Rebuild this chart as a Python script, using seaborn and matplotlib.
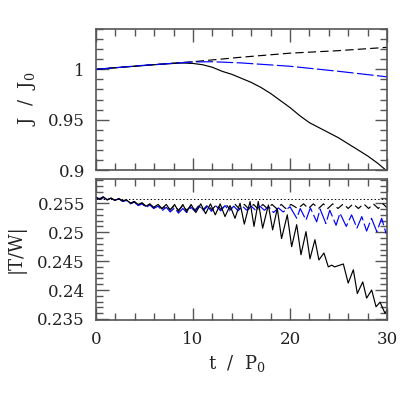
import numpy as np
import pandas as pd
import matplotlib
matplotlib.use("Agg")
import matplotlib.pyplot as plt
import seaborn as sns
from matplotlib.ticker import MultipleLocator, FixedLocator, FixedFormatter

# ---------------- data ----------------
# Top panel: J / J0
t_j = [0, 2, 4, 6, 8, 9, 10, 11, 12, 13, 14, 15, 16, 17, 18, 19, 20,
       21, 22, 23, 24, 25, 26, 27, 28, 29, 30]
j_solid = [1.0, 1.0015, 1.003, 1.0045, 1.0058, 1.0062, 1.0058, 1.0045, 1.002,
           0.998, 0.995, 0.991, 0.987, 0.982, 0.976, 0.969, 0.962, 0.954,
           0.947, 0.942, 0.937, 0.932, 0.926, 0.920, 0.914, 0.907, 0.899]
t_jd = [0, 5, 10, 15, 20, 25, 30]
j_dashed = [1.0, 1.004, 1.0075, 1.012, 1.016, 1.0185, 1.0218]
t_jb = [0, 5, 10, 12, 15, 20, 25, 30]
j_blue = [1.0, 1.004, 1.0073, 1.0075, 1.0063, 1.003, 0.998, 0.9925]

# Bottom panel: |T/W| (extrema of the oscillations)
t_ws = [0.0, 0.35, 0.75, 1.15, 1.55, 1.95, 2.35, 2.75, 3.15, 3.55,
        3.95, 4.35, 4.75, 5.15, 5.55, 5.95, 6.4, 6.8, 7.25, 7.65,
        8.1, 8.5, 8.95, 9.35, 9.8, 10.3, 10.8, 11.3, 11.8, 12.3,
        12.8, 13.3, 13.82, 14.33, 14.85, 15.29, 15.88, 16.29, 16.73, 17.18,
        17.77, 18.21, 18.69, 19.13, 19.72, 20.17, 20.69, 21.13, 21.65, 22.06,
        22.57, 22.98, 23.5, 23.95, 24.3, 24.6, 25.5, 26.0, 26.53, 26.94,
        27.5, 27.9, 28.42, 28.87, 29.28, 29.79, 30.0]
w_solid = [0.2560, 0.2557, 0.2561, 0.2556, 0.2559, 0.2555, 0.2558, 0.2554, 0.2556, 0.2550,
           0.2553, 0.2548, 0.2551, 0.2545, 0.2549, 0.2543, 0.2548, 0.2541, 0.2548, 0.2538,
           0.2548, 0.2536, 0.2548, 0.2535, 0.2548, 0.2534, 0.2549, 0.2532, 0.2549, 0.2530,
           0.2549, 0.2527, 0.2546, 0.2524, 0.2550, 0.2514, 0.2553, 0.2510, 0.2553, 0.2507,
           0.2547, 0.2504, 0.2541, 0.2489, 0.2530, 0.2475, 0.2513, 0.2461, 0.2501, 0.2454,
           0.2487, 0.2452, 0.2464, 0.2440, 0.2443, 0.2440, 0.2445, 0.2412, 0.2435, 0.2394,
           0.2414, 0.2386, 0.2400, 0.2371, 0.2379, 0.2360, 0.2365]

t_wb = [0.0, 0.35, 0.75, 1.15, 1.55, 1.95, 2.35, 2.75, 3.15, 3.55,
        3.95, 4.35, 4.75, 5.15, 5.55, 5.95, 6.4, 6.8, 7.25, 7.65,
        8.1, 8.5, 8.95, 9.35, 9.8, 10.2, 10.65, 11.05, 11.5, 11.9,
        12.4, 12.85, 13.3, 13.75, 14.2, 14.65, 15.1, 15.55, 16.0, 16.45,
        16.9, 17.35, 17.8, 18.3, 18.8, 19.3, 20.0, 20.7, 21.05, 21.65,
        22.1, 22.75, 23.1, 23.7, 24.1, 24.75, 25.15, 25.8, 26.35, 26.9,
        27.4, 27.9, 28.4, 28.95, 29.45, 29.9, 30.0]
w_blue = [0.2561, 0.2557, 0.2561, 0.2556, 0.2559, 0.2555, 0.2558, 0.2553, 0.2555, 0.2549,
          0.2552, 0.2546, 0.2549, 0.2543, 0.2547, 0.2541, 0.2545, 0.2537, 0.2543, 0.2535,
          0.2542, 0.2533, 0.2541, 0.2534, 0.2543, 0.2536, 0.2545, 0.2537, 0.2545, 0.2536,
          0.2545, 0.2537, 0.2546, 0.2537, 0.2545, 0.2537, 0.2545, 0.2538, 0.2545, 0.2538,
          0.2545, 0.2538, 0.2544, 0.2534, 0.2542, 0.2535, 0.2544, 0.2524, 0.2541, 0.2521,
          0.2542, 0.2518, 0.2540, 0.2515, 0.2538, 0.2512, 0.2533, 0.2510, 0.2530, 0.2507,
          0.2527, 0.2502, 0.2524, 0.2501, 0.2524, 0.2498, 0.2500]

t_wd = [0.0, 0.35, 0.75, 1.15, 1.55, 1.95, 2.35, 2.75, 3.15, 3.55,
        3.95, 4.35, 4.75, 5.15, 5.55, 5.95, 6.4, 6.8, 7.25, 7.65,
        8.1, 8.5, 8.95, 9.35, 9.8, 10.2, 10.65, 11.05, 11.5, 11.95,
        12.45, 12.9, 13.4, 13.85, 14.35, 14.8, 15.3, 15.75, 16.25, 16.7,
        17.2, 17.65, 18.15, 18.6, 19.1, 19.55, 20.1, 20.8, 21.4, 21.9,
        22.4, 22.95, 23.45, 23.9, 24.4, 24.95, 25.5, 26.0, 26.5, 27.05,
        27.6, 28.1, 28.6, 29.1, 29.6, 30.0]
w_dashed = [0.2560, 0.2557, 0.2561, 0.2556, 0.2559, 0.2555, 0.2558, 0.2554, 0.2556, 0.2550,
            0.2553, 0.2547, 0.2550, 0.2544, 0.2548, 0.2542, 0.2547, 0.2540, 0.2546, 0.2539,
            0.2546, 0.2538, 0.2546, 0.2538, 0.2546, 0.2538, 0.2547, 0.2539, 0.2547, 0.2539,
            0.2548, 0.2539, 0.2548, 0.2539, 0.2548, 0.2540, 0.2548, 0.2540, 0.2548, 0.2540,
            0.2548, 0.2541, 0.2548, 0.2541, 0.2548, 0.2541, 0.2548, 0.2541, 0.2549, 0.2541,
            0.2549, 0.2541, 0.2549, 0.2541, 0.2549, 0.2541, 0.2549, 0.2541, 0.2549, 0.2541,
            0.2549, 0.2541, 0.2549, 0.2541, 0.2549, 0.2542]
tw_ref = 0.2557

top_ticks = [0.9, 0.95, 1.0]
top_ticklabels = ["0.9", "0.95", "1"]
bot_ticks = [0.235, 0.24, 0.245, 0.25, 0.255]
bot_ticklabels = ["0.235", "0.24", "0.245", "0.25", "0.255"]
x_ticks = [0, 10, 20, 30]
x_ticklabels = ["0", "10", "20", "30"]

# ---------------- style ----------------
sns.set_style("ticks")
plt.rcParams["font.family"] = ["DejaVu Serif"]
plt.rcParams["mathtext.fontset"] = "dejavuserif"
plt.rcParams["lines.scale_dashes"] = False
plt.rcParams["lines.solid_joinstyle"] = "round"
plt.rcParams["lines.dash_joinstyle"] = "round"

txt_color = "#222222"
spine_color = "#555555"

fig = plt.figure(figsize=(4.15, 4.15), dpi=100)
ax1 = fig.add_axes([96/415, 1 - 170/415, 291/415, 141/415])
ax2 = fig.add_axes([96/415, 1 - 319.5/415, 291/415, 140.5/415])

lw = 0.85
blk_dash = (0, (6.0, 3.0))
blue_dash = (0, (12.0, 2.5))

# Top panel
sns.lineplot(x=t_j, y=j_solid, ax=ax1, color="black", lw=lw, sort=False, estimator=None)
sns.lineplot(x=t_jd, y=j_dashed, ax=ax1, color="black", lw=lw, ls=blk_dash, sort=False, estimator=None)
sns.lineplot(x=t_jb, y=j_blue, ax=ax1, color="#0000ff", lw=lw, ls=blue_dash, sort=False, estimator=None)

# Bottom panel
ax2.axhline(tw_ref, color="black", lw=0.7, ls=(0, (1.0, 1.6)))
sns.lineplot(x=t_wd, y=w_dashed, ax=ax2, color="black", lw=lw, ls=blk_dash, sort=False, estimator=None)
sns.lineplot(x=t_wb, y=w_blue, ax=ax2, color="#0000ff", lw=lw, ls=blue_dash, sort=False, estimator=None)
sns.lineplot(x=t_ws, y=w_solid, ax=ax2, color="black", lw=lw, sort=False, estimator=None)

ax1.set_xlim(0, 30)
ax1.set_ylim(0.9, 1.04)
ax2.set_xlim(0, 30)
ax2.set_ylim(0.2349, 0.2592)

for ax in (ax1, ax2):
    ax.xaxis.set_major_locator(FixedLocator(x_ticks))
    ax.xaxis.set_minor_locator(MultipleLocator(2))
    ax.tick_params(which="both", direction="in", top=True, right=True,
                   color=spine_color, width=1.0, labelsize=12,
                   labelcolor=txt_color)
    ax.tick_params(which="major", length=9, pad=8)
    ax.tick_params(which="minor", length=5)
    for s in ax.spines.values():
        s.set_color(spine_color)
        s.set_linewidth(1.2)

ax1.yaxis.set_major_locator(FixedLocator(top_ticks))
ax1.yaxis.set_major_formatter(FixedFormatter(top_ticklabels))
ax1.yaxis.set_minor_locator(MultipleLocator(0.01))
ax1.set_xticklabels([])

ax2.yaxis.set_major_locator(FixedLocator(bot_ticks))
ax2.yaxis.set_major_formatter(FixedFormatter(bot_ticklabels))
ax2.yaxis.set_minor_locator(MultipleLocator(0.001))
ax2.xaxis.set_major_formatter(FixedFormatter(x_ticklabels))

fig.text(27/415, 1 - 99/415, r"J  /  J$_0$", rotation=90, ha="center", va="center",
         fontsize=13, color=txt_color)
fig.text(16/415, 1 - 249/415, "|T/W|", rotation=90, ha="center", va="center",
         fontsize=13, color=txt_color)
fig.text(237/415, 1 - 363/415, r"t  /  P$_0$", ha="center", va="center",
         fontsize=13, color=txt_color)

fig.savefig("out.png", dpi=100)
